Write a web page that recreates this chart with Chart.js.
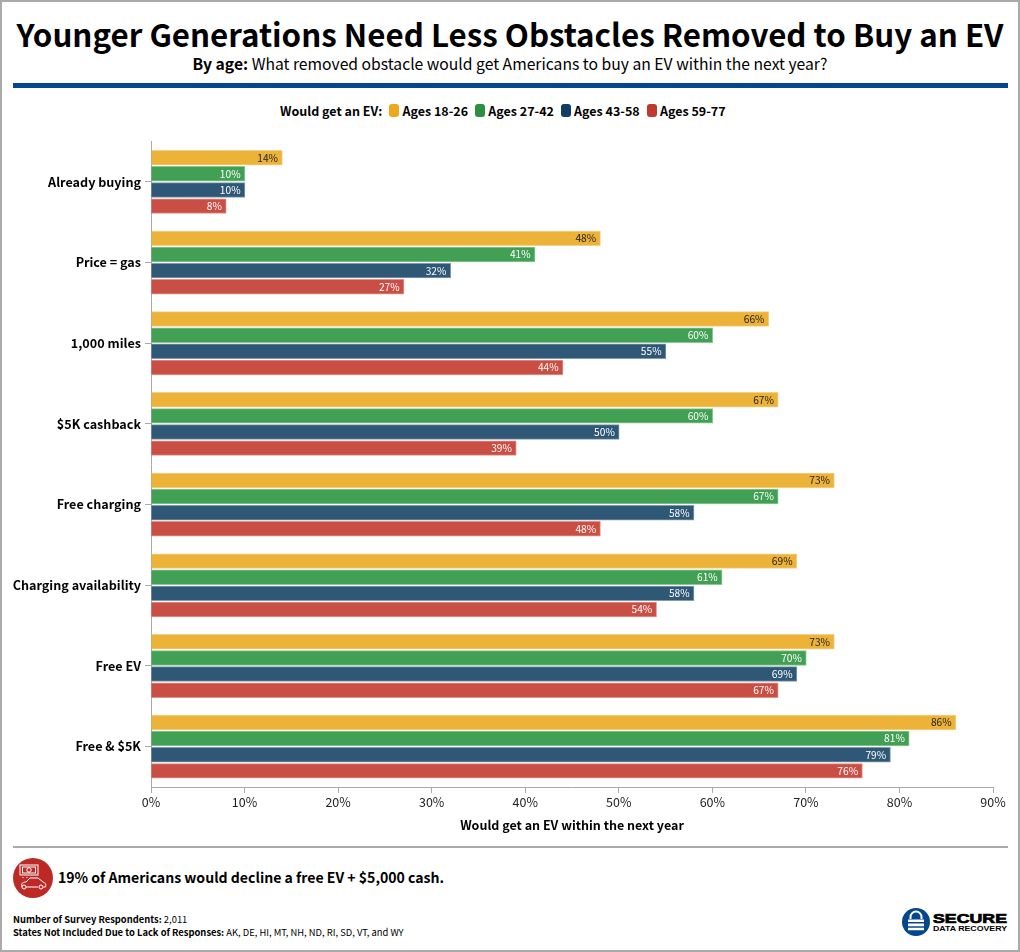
<!DOCTYPE html>
<html>
<head>
<meta charset="utf-8">
<script src="https://cdn.jsdelivr.net/npm/chart.js@4"></script>
<style>
	html, body { margin: 0; padding: 0; background: #fff; }
	body { width: 1020px; height: 952px; position: relative; overflow: hidden; font-family: "Noto Sans CJK SC", "Noto Sans", sans-serif; color: #000; }
	.frame { position: absolute; inset: 0; border: 2px solid #aaa; box-sizing: border-box; pointer-events: none; }
	.txt { position: absolute; white-space: nowrap; }
	#title { left: 0; width: 1020px; top: 12px; text-align: center; font-size: 31.3px; font-weight: 700; line-height: 44px; }
	#sub { left: 0; width: 1020px; top: 53px; text-align: center; font-size: 15.7px; line-height: 22px; }
	#rule { position: absolute; left: 13px; width: 995px; top: 83px; height: 5px; background: #04478c; }
	#legend { position: absolute; top: 101px; left: 280px; height: 18px; display: flex; align-items: center; font-size: 12.5px; font-weight: 700; }
	#legend i { display: inline-block; width: 10px; height: 13px; border-radius: 3px; margin: 0 3px 0 7.2px; }
	#chart { position: absolute; left: 0; top: 130px; }
	#rule2 { position: absolute; left: 13px; width: 995px; top: 846px; height: 2px; background: #aaa; }
	#note { left: 58px; top: 866px; font-size: 14.07px; font-weight: 700; line-height: 22px; }
	#foot { left: 13px; top: 913px; font-size: 9.4px; line-height: 13px; }
	#badge { position: absolute; left: 13px; top: 858px; }
	#logo { position: absolute; left: 900px; top: 907px; }
</style>
</head>
<body>
<div class="txt" id="title">Younger Generations Need Less Obstacles Removed to Buy an EV</div>
<div class="txt" id="sub"><b>By age:</b> What removed obstacle would get Americans to buy an EV within the next year?</div>
<div id="rule"></div>
<div id="legend"></div>
<canvas id="chart" width="1020" height="703"></canvas>
<div id="rule2"></div>
<svg id="badge" width="40" height="40" viewBox="0 0 40 40">
	<circle cx="20" cy="20" r="20" fill="#bd2a26"/>
	<g fill="none" stroke="#fff" stroke-width="1">
		<rect x="7" y="7" width="18" height="10"/>
		<rect x="9.5" y="9" width="13" height="6"/>
		<circle cx="16" cy="12" r="2.2"/>
		<path d="M10 20v-1M14 20v-1"/>
		<path d="M9 29c-1-3 0-5 4-5l4-4h8l5 4c3 1 3 3 2.5 5h-2M13 29h12"/>
		<circle cx="11" cy="29" r="2"/>
		<circle cx="28" cy="29" r="2"/>
	</g>
</svg>
<div class="txt" id="note">19% of Americans would decline a free EV + $5,000 cash.</div>
<div class="txt" id="foot"><b>Number of Survey Respondents:</b> 2,011<br><b>States Not Included Due to Lack of Responses:</b> AK, DE, HI, MT, NH, ND, RI, SD, VT, and WY</div>
<svg id="logo" width="108" height="30" viewBox="0 0 108 30">
	<circle cx="16" cy="15" r="14" fill="#04478c"/>
	<path d="M10.5 12V10a5.5 5.5 0 0 1 11 0v2" fill="none" stroke="#fff" stroke-width="2"/>
	<path d="M8 12.5h16v2.6H8zM8 16.6h16v2.6H8zM8 20.7h16v2.6H8z" fill="#fff"/>
	<text x="33" y="16" font-family="Liberation Sans" font-weight="700" font-size="13" stroke="#000" stroke-width="0.7" textLength="74" lengthAdjust="spacingAndGlyphs">SECURE</text>
	<text x="33" y="24" font-family="Liberation Sans" font-weight="700" font-size="8" textLength="74" lengthAdjust="spacingAndGlyphs">DATA RECOVERY</text>
</svg>
<div class="frame"></div>
<script>
const categories = ['Already buying', 'Price = gas', '1,000 miles', '$5K cashback', 'Free charging', 'Charging availability', 'Free EV', 'Free & $5K'];
const ages18to26 = [14, 48, 66, 67, 73, 69, 73, 86];
const ages27to42 = [10, 41, 60, 60, 67, 61, 70, 81];
const ages43to58 = [10, 32, 55, 50, 58, 58, 69, 79];
const ages59to77 = [8, 27, 44, 39, 48, 54, 67, 76];
const seriesNames = ['Ages 18-26', 'Ages 27-42', 'Ages 43-58', 'Ages 59-77'];
const legendColors = ['#eea81c', '#2a9040', '#0f3d63', '#c0392f'];
const barColors = ['#edb238', '#41a053', '#2f5877', '#c94f45'];
const labelColors = ['#222', '#fff', '#fff', '#fff'];
const xTicks = [0, 10, 20, 30, 40, 50, 60, 70, 80, 90];
const FONT = '"Noto Sans CJK SC", "Noto Sans", sans-serif';

document.getElementById('legend').innerHTML = '<span>Would get an EV:</span>' +
	seriesNames.map((n, i) => `<i style="background:${legendColors[i]}"></i><span>${n}</span>`).join('');

const barLabels = {
	id: 'barLabels',
	afterDatasetsDraw(chart) {
		const ctx = chart.ctx;
		ctx.save();
		ctx.font = '10.2px ' + FONT;
		ctx.textAlign = 'right';
		ctx.textBaseline = 'middle';
		chart.data.datasets.forEach((ds, i) => {
			chart.getDatasetMeta(i).data.forEach((bar, j) => {
				ctx.fillStyle = labelColors[i];
				ctx.fillText(ds.data[j] + '%', bar.x - 4, bar.y);
			});
		});
		ctx.restore();
	}
};

new Chart(document.getElementById('chart'), {
	type: 'bar',
	data: {
		labels: categories,
		datasets: [ages18to26, ages27to42, ages43to58, ages59to77].map((data, i) => ({
			label: seriesNames[i],
			data,
			backgroundColor: barColors[i],
			borderColor: barColors[i] + '99',
			borderWidth: 1,
			inflateAmount: 0.7,
			barPercentage: 0.87,
			categoryPercentage: 0.8
		}))
	},
	options: {
		indexAxis: 'y',
		responsive: false,
		animation: false,
		layout: { padding: { left: 0, right: 27, top: 11.5, bottom: 0 } },
		plugins: { legend: { display: false }, tooltip: { enabled: false } },
		scales: {
			x: {
				min: 0,
				max: 90,
				afterBuildTicks: axis => { axis.ticks = xTicks.map(value => ({ value })); },
				grid: { drawOnChartArea: false, tickLength: 6, tickColor: '#aaa' },
				border: { color: '#aaa' },
				ticks: { color: '#222', font: { family: FONT, size: 12.5 }, callback: v => v + '%', padding: 2, maxRotation: 0 },
				title: { display: true, text: 'Would get an EV within the next year', color: '#000', font: { family: FONT, size: 12.5, weight: '700' }, padding: { top: 4, bottom: 0 } },
				afterFit: axis => { axis.height = 46; }
			},
			y: {
				grid: { offset: false, drawOnChartArea: false, tickLength: 6, tickColor: '#aaa' },
				border: { color: '#aaa' },
				ticks: { color: '#000', font: { family: FONT, size: 12.6, weight: '700' }, padding: 4 },
				afterFit: axis => { axis.width = 151; }
			}
		}
	},
	plugins: [barLabels]
});
</script>
</body>
</html>
